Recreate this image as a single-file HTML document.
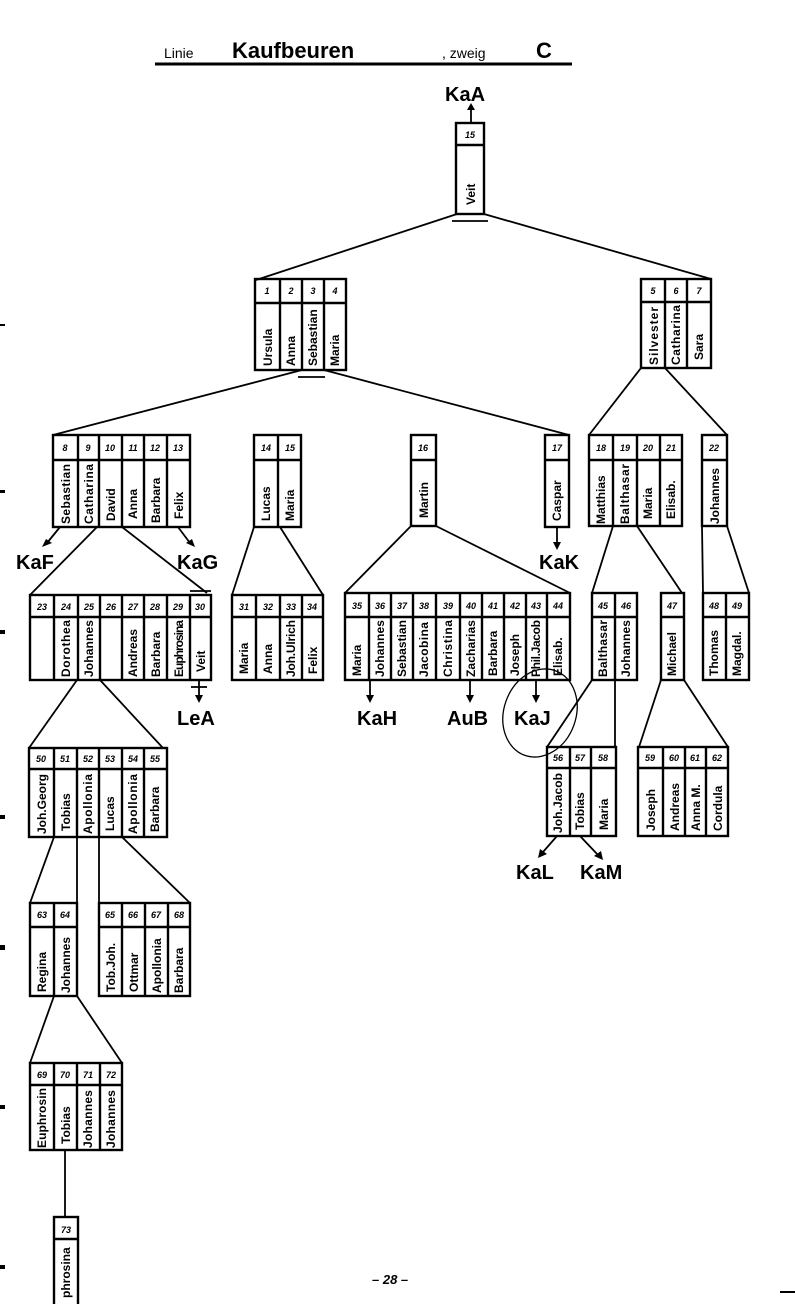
<!DOCTYPE html>
<html><head><meta charset="utf-8"><style>
html,body{margin:0;padding:0;background:#fff}
svg{display:block}
.b{fill:none;stroke:#000;stroke-width:2.4}
.l{stroke:#000;stroke-width:1.8;fill:none}
.n{font-family:"Liberation Sans",sans-serif;font-size:9px;font-style:italic;font-weight:bold;text-anchor:middle}
.t{font-family:"Liberation Sans",sans-serif;font-size:12px;font-weight:bold}
.k{font-family:"Liberation Sans",sans-serif;font-size:20px;font-weight:bold}
</style></head><body>
<svg width="795" height="1304" viewBox="0 0 795 1304" xmlns="http://www.w3.org/2000/svg">
<text x="164" y="58" font-family="Liberation Sans,sans-serif" font-size="14">Linie</text>
<text x="232" y="58" font-family="Liberation Sans,sans-serif" font-size="22" font-weight="bold">Kaufbeuren</text>
<text x="442" y="58" font-family="Liberation Sans,sans-serif" font-size="14">, zweig</text>
<text x="536" y="58" font-family="Liberation Sans,sans-serif" font-size="22" font-weight="bold">C</text>
<line x1="155" y1="64" x2="572" y2="64" stroke="#000" stroke-width="3"/>
<text class="k" x="445" y="101">KaA</text>
<line class="l" x1="471" y1="123" x2="471" y2="108"/><polygon points="467,110 475,110 471,103"/>

<g class="l">
<line x1="457" y1="214" x2="256" y2="280"/><line x1="484" y1="214" x2="711" y2="279"/>
<line x1="452" y1="221" x2="488" y2="221"/>
<line x1="302" y1="370" x2="53" y2="435"/><line x1="324" y1="370" x2="569" y2="435"/>
<line x1="298" y1="377" x2="325" y2="377"/>
<line x1="641" y1="368" x2="589" y2="435"/><line x1="665" y1="368" x2="727" y2="435"/>
<line x1="97" y1="527" x2="30" y2="595"/><line x1="122" y1="527" x2="207" y2="593"/>
<line x1="190" y1="591" x2="211" y2="591"/>
<line x1="254" y1="527" x2="232" y2="595"/><line x1="280" y1="527" x2="323" y2="595"/>
<line x1="411" y1="526" x2="345" y2="593"/><line x1="436" y1="526" x2="570" y2="593"/>
<line x1="613" y1="526" x2="592" y2="593"/><line x1="637" y1="526" x2="682" y2="593"/>
<line x1="702" y1="526" x2="703" y2="593"/><line x1="727" y1="526" x2="749" y2="593"/>
<line x1="77" y1="680" x2="29" y2="748"/><line x1="100" y1="680" x2="163" y2="748"/>
<line x1="592" y1="680" x2="547" y2="747"/><line x1="615" y1="680" x2="615" y2="747"/>
<line x1="661" y1="680" x2="639" y2="747"/><line x1="684" y1="680" x2="728" y2="747"/>
<line x1="54" y1="837" x2="30" y2="903"/><line x1="77" y1="837" x2="77" y2="903"/>
<line x1="99" y1="837" x2="99" y2="903"/><line x1="122" y1="837" x2="190" y2="903"/>
<line x1="54" y1="996" x2="30" y2="1063"/><line x1="77" y1="996" x2="122" y2="1063"/>
<line x1="65" y1="1150" x2="65" y2="1217"/>
<line x1="60" y1="527" x2="47" y2="543"/><line x1="178" y1="527" x2="190" y2="543"/>
<line x1="557" y1="527" x2="557" y2="543"/>
<line x1="199" y1="680" x2="199" y2="696"/><line x1="191" y1="687" x2="207" y2="687"/>
<line x1="370" y1="680" x2="370" y2="696"/><line x1="470" y1="680" x2="470" y2="696"/>
<line x1="536" y1="680" x2="536" y2="696"/>
<line x1="557" y1="836" x2="543" y2="852"/><line x1="580" y1="836" x2="598" y2="855"/>
<ellipse cx="540" cy="713" rx="36" ry="45" transform="rotate(20 540 713)" stroke-width="1.3"/>
</g>
<g>
<polygon points="42,547 52,543 46,539"/><polygon points="195,547 186,543 192,539"/>
<polygon points="553,542 561,542 557,550"/>
<polygon points="195,695 203,695 199,703"/>
<polygon points="366,695 374,695 370,703"/><polygon points="466,695 474,695 470,703"/>
<polygon points="532,695 540,695 536,703"/>
<polygon points="538,858 540,849 547,854"/><polygon points="603,860 594,856 601,851"/>
</g>
<text class="k" x="16" y="569">KaF</text>
<text class="k" x="177" y="569">KaG</text>
<text class="k" x="539" y="569">KaK</text>
<text class="k" x="177" y="725">LeA</text>
<text class="k" x="357" y="725">KaH</text>
<text class="k" x="447" y="725">AuB</text>
<text class="k" x="514" y="725">KaJ</text>
<text class="k" x="516" y="879">KaL</text>
<text class="k" x="580" y="879">KaM</text>

<g><rect class="b" x="456" y="123" width="28" height="91"/><line class="b" x1="456" y1="145" x2="484" y2="145"/>
<text class="n" x="470" y="138">15</text><text class="t" transform="translate(475,205) rotate(-90)">Veit</text></g>

<g><rect class="b" x="255" y="279" width="91" height="91"/><line class="b" x1="255" y1="303" x2="346" y2="303"/>
<line class="b" x1="280" y1="279" x2="280" y2="370"/><line class="b" x1="302" y1="279" x2="302" y2="370"/><line class="b" x1="324" y1="279" x2="324" y2="370"/>
<text class="n" x="267" y="294">1</text><text class="n" x="291" y="294">2</text><text class="n" x="313" y="294">3</text><text class="n" x="335" y="294">4</text>
<text class="t" transform="translate(272,366) rotate(-90)">Ursula</text><text class="t" transform="translate(295,366) rotate(-90)">Anna</text><text class="t" transform="translate(317,366) rotate(-90)">Sebastian</text><text class="t" transform="translate(339,366) rotate(-90)">Maria</text></g>

<g><rect class="b" x="641" y="279" width="70" height="89"/><line class="b" x1="641" y1="302" x2="711" y2="302"/>
<line class="b" x1="665" y1="279" x2="665" y2="368"/><line class="b" x1="687" y1="279" x2="687" y2="368"/>
<text class="n" x="653" y="294">5</text><text class="n" x="676" y="294">6</text><text class="n" x="699" y="294">7</text>
<text class="t" transform="translate(658,365) rotate(-90)" textLength="58">Silvester</text><text class="t" transform="translate(680,365) rotate(-90)" textLength="60">Catharina</text><text class="t" transform="translate(703,360) rotate(-90)">Sara</text></g>

<g><rect class="b" x="53" y="435" width="137" height="92"/><line class="b" x1="53" y1="460" x2="190" y2="460"/>
<line class="b" x1="78" y1="435" x2="78" y2="527"/><line class="b" x1="99" y1="435" x2="99" y2="527"/><line class="b" x1="122" y1="435" x2="122" y2="527"/><line class="b" x1="144" y1="435" x2="144" y2="527"/><line class="b" x1="167" y1="435" x2="167" y2="527"/>
<text class="n" x="65" y="451">8</text><text class="n" x="88" y="451">9</text><text class="n" x="110" y="451">10</text><text class="n" x="133" y="451">11</text><text class="n" x="155" y="451">12</text><text class="n" x="178" y="451">13</text>
<text class="t" transform="translate(70,524) rotate(-90)" textLength="60">Sebastian</text><text class="t" transform="translate(93,524) rotate(-90)" textLength="60">Catharina</text><text class="t" transform="translate(115,521) rotate(-90)">David</text><text class="t" transform="translate(137,519) rotate(-90)">Anna</text><text class="t" transform="translate(160,523) rotate(-90)">Barbara</text><text class="t" transform="translate(183,519) rotate(-90)">Felix</text></g>

<g><rect class="b" x="254" y="435" width="47" height="92"/><line class="b" x1="254" y1="460" x2="301" y2="460"/><line class="b" x1="278" y1="435" x2="278" y2="527"/>
<text class="n" x="266" y="451">14</text><text class="n" x="290" y="451">15</text>
<text class="t" transform="translate(270,521) rotate(-90)">Lucas</text><text class="t" transform="translate(294,521) rotate(-90)">Maria</text></g>

<g><rect class="b" x="411" y="435" width="25" height="91"/><line class="b" x1="411" y1="460" x2="436" y2="460"/>
<text class="n" x="423" y="451">16</text><text class="t" transform="translate(428,518) rotate(-90)">Martin</text></g>

<g><rect class="b" x="545" y="435" width="24" height="92"/><line class="b" x1="545" y1="460" x2="569" y2="460"/>
<text class="n" x="557" y="451">17</text><text class="t" transform="translate(561,521) rotate(-90)">Caspar</text></g>

<g><rect class="b" x="589" y="435" width="93" height="91"/><line class="b" x1="589" y1="460" x2="682" y2="460"/>
<line class="b" x1="613" y1="435" x2="613" y2="526"/><line class="b" x1="637" y1="435" x2="637" y2="526"/><line class="b" x1="660" y1="435" x2="660" y2="526"/>
<text class="n" x="601" y="451">18</text><text class="n" x="625" y="451">19</text><text class="n" x="648" y="451">20</text><text class="n" x="671" y="451">21</text>
<text class="t" transform="translate(605,524) rotate(-90)">Matthias</text><text class="t" transform="translate(629,524) rotate(-90)" textLength="60">Balthasar</text><text class="t" transform="translate(652,519) rotate(-90)">Maria</text><text class="t" transform="translate(675,519) rotate(-90)">Elisab.</text></g>

<g><rect class="b" x="702" y="435" width="25" height="91"/><line class="b" x1="702" y1="460" x2="727" y2="460"/>
<text class="n" x="714" y="451">22</text><text class="t" transform="translate(719,524) rotate(-90)">Johannes</text></g>

<g><rect class="b" x="30" y="595" width="181" height="85"/><line class="b" x1="30" y1="617" x2="211" y2="617"/>
<line class="b" x1="54" y1="595" x2="54" y2="680"/><line class="b" x1="78" y1="595" x2="78" y2="680"/><line class="b" x1="100" y1="595" x2="100" y2="680"/><line class="b" x1="122" y1="595" x2="122" y2="680"/><line class="b" x1="144" y1="595" x2="144" y2="680"/><line class="b" x1="167" y1="595" x2="167" y2="680"/><line class="b" x1="190" y1="595" x2="190" y2="680"/>
<text class="n" x="42" y="610">23</text><text class="n" x="66" y="610">24</text><text class="n" x="89" y="610">25</text><text class="n" x="111" y="610">26</text><text class="n" x="133" y="610">27</text><text class="n" x="155" y="610">28</text><text class="n" x="178" y="610">29</text><text class="n" x="200" y="610">30</text>
<text class="t" transform="translate(70,677) rotate(-90)" textLength="57">Dorothea</text><text class="t" transform="translate(93,677) rotate(-90)" textLength="57">Johannes</text><text class="t" transform="translate(137,677) rotate(-90)">Andreas</text><text class="t" transform="translate(160,677) rotate(-90)">Barbara</text><text class="t" transform="translate(183,677) rotate(-90)" textLength="57">Euphrosina</text><text class="t" transform="translate(205,672) rotate(-90)">Veit</text></g>

<g><rect class="b" x="232" y="595" width="91" height="85"/><line class="b" x1="232" y1="617" x2="323" y2="617"/>
<line class="b" x1="256" y1="595" x2="256" y2="680"/><line class="b" x1="280" y1="595" x2="280" y2="680"/><line class="b" x1="302" y1="595" x2="302" y2="680"/>
<text class="n" x="244" y="610">31</text><text class="n" x="268" y="610">32</text><text class="n" x="291" y="610">33</text><text class="n" x="312" y="610">34</text>
<text class="t" transform="translate(248,674) rotate(-90)">Maria</text><text class="t" transform="translate(272,674) rotate(-90)">Anna</text><text class="t" transform="translate(295,677) rotate(-90)" textLength="57">Joh.Ulrich</text><text class="t" transform="translate(317,674) rotate(-90)">Felix</text></g>

<g><rect class="b" x="345" y="593" width="225" height="87"/><line class="b" x1="345" y1="617" x2="570" y2="617"/>
<line class="b" x1="369" y1="593" x2="369" y2="680"/><line class="b" x1="391" y1="593" x2="391" y2="680"/><line class="b" x1="413" y1="593" x2="413" y2="680"/><line class="b" x1="436" y1="593" x2="436" y2="680"/><line class="b" x1="460" y1="593" x2="460" y2="680"/><line class="b" x1="482" y1="593" x2="482" y2="680"/><line class="b" x1="504" y1="593" x2="504" y2="680"/><line class="b" x1="526" y1="593" x2="526" y2="680"/><line class="b" x1="547" y1="593" x2="547" y2="680"/>
<text class="n" x="357" y="609">35</text><text class="n" x="380" y="609">36</text><text class="n" x="402" y="609">37</text><text class="n" x="424" y="609">38</text><text class="n" x="448" y="609">39</text><text class="n" x="471" y="609">40</text><text class="n" x="493" y="609">41</text><text class="n" x="515" y="609">42</text><text class="n" x="536" y="609">43</text><text class="n" x="558" y="609">44</text>
<text class="t" transform="translate(361,676) rotate(-90)">Maria</text><text class="t" transform="translate(384,677) rotate(-90)" textLength="57">Johannes</text><text class="t" transform="translate(406,677) rotate(-90)" textLength="57">Sebastian</text><text class="t" transform="translate(428,677) rotate(-90)" textLength="55">Jacobina</text><text class="t" transform="translate(452,677) rotate(-90)" textLength="57">Christina</text><text class="t" transform="translate(475,677) rotate(-90)" textLength="57">Zacharias</text><text class="t" transform="translate(497,676) rotate(-90)">Barbara</text><text class="t" transform="translate(519,676) rotate(-90)">Joseph</text><text class="t" transform="translate(540,677) rotate(-90)" textLength="57">Phil.Jacob</text><text class="t" transform="translate(562,676) rotate(-90)">Elisab.</text></g>

<g><rect class="b" x="592" y="593" width="45" height="87"/><line class="b" x1="592" y1="617" x2="637" y2="617"/><line class="b" x1="615" y1="593" x2="615" y2="680"/>
<text class="n" x="603" y="609">45</text><text class="n" x="626" y="609">46</text>
<text class="t" transform="translate(607,677) rotate(-90)" textLength="57">Balthasar</text><text class="t" transform="translate(630,677) rotate(-90)" textLength="57">Johannes</text></g>

<g><rect class="b" x="661" y="593" width="23" height="87"/><line class="b" x1="661" y1="617" x2="684" y2="617"/>
<text class="n" x="672" y="609">47</text><text class="t" transform="translate(676,676) rotate(-90)">Michael</text></g>

<g><rect class="b" x="703" y="593" width="46" height="87"/><line class="b" x1="703" y1="617" x2="749" y2="617"/><line class="b" x1="726" y1="593" x2="726" y2="680"/>
<text class="n" x="714" y="609">48</text><text class="n" x="737" y="609">49</text>
<text class="t" transform="translate(718,676) rotate(-90)">Thomas</text><text class="t" transform="translate(741,676) rotate(-90)">Magdal.</text></g>

<g><rect class="b" x="29" y="748" width="138" height="89"/><line class="b" x1="29" y1="769" x2="167" y2="769"/>
<line class="b" x1="54" y1="748" x2="54" y2="837"/><line class="b" x1="77" y1="748" x2="77" y2="837"/><line class="b" x1="99" y1="748" x2="99" y2="837"/><line class="b" x1="122" y1="748" x2="122" y2="837"/><line class="b" x1="144" y1="748" x2="144" y2="837"/>
<text class="n" x="41" y="762">50</text><text class="n" x="65" y="762">51</text><text class="n" x="88" y="762">52</text><text class="n" x="110" y="762">53</text><text class="n" x="133" y="762">54</text><text class="n" x="155" y="762">55</text>
<text class="t" transform="translate(46,834) rotate(-90)" textLength="60">Joh.Georg</text><text class="t" transform="translate(70,831) rotate(-90)">Tobias</text><text class="t" transform="translate(92,834) rotate(-90)" textLength="60">Apollonia</text><text class="t" transform="translate(114,831) rotate(-90)">Lucas</text><text class="t" transform="translate(137,834) rotate(-90)" textLength="60">Apollonia</text><text class="t" transform="translate(159,832) rotate(-90)">Barbara</text></g>

<g><rect class="b" x="547" y="747" width="69" height="89"/><line class="b" x1="547" y1="768" x2="616" y2="768"/>
<line class="b" x1="570" y1="747" x2="570" y2="836"/><line class="b" x1="591" y1="747" x2="591" y2="836"/>
<text class="n" x="558" y="761">56</text><text class="n" x="580" y="761">57</text><text class="n" x="603" y="761">58</text>
<text class="t" transform="translate(562,833) rotate(-90)" textLength="60">Joh.Jacob</text><text class="t" transform="translate(584,830) rotate(-90)">Tobias</text><text class="t" transform="translate(608,830) rotate(-90)">Maria</text></g>

<g><rect class="b" x="638" y="747" width="90" height="89"/><line class="b" x1="638" y1="768" x2="728" y2="768"/>
<line class="b" x1="663" y1="747" x2="663" y2="836"/><line class="b" x1="685" y1="747" x2="685" y2="836"/><line class="b" x1="706" y1="747" x2="706" y2="836"/>
<text class="n" x="650" y="761">59</text><text class="n" x="674" y="761">60</text><text class="n" x="695" y="761">61</text><text class="n" x="717" y="761">62</text>
<text class="t" transform="translate(655,831) rotate(-90)">Joseph</text><text class="t" transform="translate(679,831) rotate(-90)">Andreas</text><text class="t" transform="translate(700,831) rotate(-90)">Anna M.</text><text class="t" transform="translate(722,831) rotate(-90)">Cordula</text></g>

<g><rect class="b" x="30" y="903" width="47" height="93"/><line class="b" x1="30" y1="927" x2="77" y2="927"/><line class="b" x1="54" y1="903" x2="54" y2="996"/>
<text class="n" x="42" y="918">63</text><text class="n" x="65" y="918">64</text>
<text class="t" transform="translate(46,992) rotate(-90)">Regina</text><text class="t" transform="translate(70,993) rotate(-90)">Johannes</text></g>

<g><rect class="b" x="99" y="903" width="91" height="93"/><line class="b" x1="99" y1="927" x2="190" y2="927"/>
<line class="b" x1="122" y1="903" x2="122" y2="996"/><line class="b" x1="145" y1="903" x2="145" y2="996"/><line class="b" x1="168" y1="903" x2="168" y2="996"/>
<text class="n" x="110" y="918">65</text><text class="n" x="133" y="918">66</text><text class="n" x="156" y="918">67</text><text class="n" x="179" y="918">68</text>
<text class="t" transform="translate(115,992) rotate(-90)">Tob.Joh.</text><text class="t" transform="translate(138,992) rotate(-90)">Ottmar</text><text class="t" transform="translate(161,993) rotate(-90)">Apollonia</text><text class="t" transform="translate(183,993) rotate(-90)">Barbara</text></g>

<g><rect class="b" x="30" y="1063" width="92" height="87"/><line class="b" x1="30" y1="1085" x2="122" y2="1085"/>
<line class="b" x1="54" y1="1063" x2="54" y2="1150"/><line class="b" x1="77" y1="1063" x2="77" y2="1150"/><line class="b" x1="100" y1="1063" x2="100" y2="1150"/>
<text class="n" x="42" y="1078">69</text><text class="n" x="65" y="1078">70</text><text class="n" x="88" y="1078">71</text><text class="n" x="111" y="1078">72</text>
<text class="t" transform="translate(46,1148) rotate(-90)" textLength="60">Euphrosin</text><text class="t" transform="translate(70,1144) rotate(-90)">Tobias</text><text class="t" transform="translate(92,1148) rotate(-90)" textLength="58">Johannes</text><text class="t" transform="translate(115,1148) rotate(-90)" textLength="58">Johannes</text></g>

<g><rect class="b" x="54" y="1217" width="24" height="92"/><line class="b" x1="54" y1="1239" x2="78" y2="1239"/>
<text class="n" x="66" y="1233">73</text><text class="t" transform="translate(70,1298) rotate(-90)">phrosina</text></g>

<text x="372" y="1284" font-family="Liberation Sans,sans-serif" font-size="13" font-weight="bold" font-style="italic">– 28 –</text>
<line x1="780" y1="1292" x2="795" y2="1292" stroke="#000" stroke-width="2"/>
<g fill="#000">
<rect x="0" y="324" width="5" height="2"/><rect x="0" y="490" width="5" height="3"/><rect x="0" y="630" width="5" height="4"/>
<rect x="0" y="815" width="5" height="4"/><rect x="0" y="945" width="5" height="5"/><rect x="0" y="1105" width="5" height="4"/><rect x="0" y="1265" width="5" height="4"/>
</g>
</svg>
</body></html>
